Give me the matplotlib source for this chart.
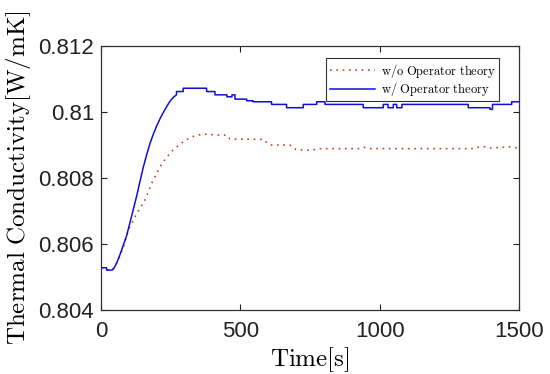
import matplotlib
matplotlib.use('Agg')
import matplotlib.pyplot as plt

plt.rcParams['mathtext.fontset'] = 'cm'
plt.rcParams['font.family'] = ['Liberation Sans', 'DejaVu Sans']

# w/ Operator theory (smooth ramp, then quantised plateaus)
t_with = [0, 20, 20, 40, 45, 52, 60, 70, 80, 92, 104, 116, 128, 140, 152, 164,
          176, 188, 200, 212, 224, 236, 248, 260, 271, 271, 295,
          295, 379, 379, 409, 409, 452, 452, 470, 470, 481, 481, 523, 523, 546,
          546, 612, 612, 666, 666, 726, 726, 774, 774, 804, 804, 941, 941, 1013,
          1013, 1030, 1030, 1049, 1049, 1061, 1061, 1080, 1080, 1318, 1318, 1396,
          1396, 1405, 1405, 1474, 1474, 1500]
k_with = [0.80528, 0.80528, 0.80521, 0.80521, 0.80525, 0.80535, 0.80550, 0.80572,
          0.80596, 0.80625, 0.80665, 0.80705, 0.80745, 0.80790, 0.80833, 0.80871,
          0.80905, 0.80933, 0.80958, 0.80980, 0.80999, 0.81017, 0.81033, 0.81045,
          0.81052, 0.81062, 0.81062, 0.81072,
          0.81072, 0.81062, 0.81062, 0.81052, 0.81052, 0.81046, 0.81046, 0.81052,
          0.81052, 0.81039, 0.81039, 0.81034, 0.81034, 0.81031, 0.81031, 0.81023,
          0.81023, 0.81013, 0.81013, 0.81023, 0.81023, 0.81031, 0.81031, 0.81023,
          0.81023, 0.81013, 0.81013, 0.81023, 0.81023, 0.81013, 0.81013, 0.81023,
          0.81023, 0.81013, 0.81013, 0.81023, 0.81023, 0.81013, 0.81013, 0.81008,
          0.81008, 0.81023, 0.81023, 0.81031, 0.81031]

# w/o Operator theory
t_without = [0, 20, 40, 52, 70, 80, 98, 128, 158, 182, 212, 235, 259, 295, 320,
             343, 380, 415, 451, 463, 582, 594, 606, 678, 700, 750, 785, 930, 945,
             960, 1330, 1350, 1380, 1400, 1440, 1470, 1500]
k_without = [0.80528, 0.80521, 0.80521, 0.80535, 0.80568, 0.80590, 0.80642, 0.80692,
             0.80733, 0.80784, 0.80834, 0.80862, 0.80885, 0.80910, 0.80922, 0.80930,
             0.80933, 0.80930, 0.80930, 0.80918, 0.80917, 0.80908, 0.80900, 0.80900,
             0.80886, 0.80884, 0.80889, 0.80889, 0.80893, 0.80889, 0.80889, 0.80893,
             0.80895, 0.80891, 0.80893, 0.80895, 0.80890]

x_ticks = [0, 500, 1000, 1500]
y_ticks = [0.804, 0.806, 0.808, 0.810, 0.812]
y_tick_labels = ['0.804', '0.806', '0.808', '0.81', '0.812']

fig = plt.figure(figsize=(5.5, 3.74), dpi=100)
ax = fig.add_axes([0.1836, 0.1711, 0.76, 0.7059])

ax.plot(t_without, k_without, color='#c04a1e', lw=1.2, linestyle=(0, (1, 2.8)),
        label=r'$\mathrm{w/o\ Operator\ theory}$')
ax.plot(t_with, k_with, color='#1010d0', lw=1.1,
        label=r'$\mathrm{w/\ Operator\ theory}$')

ax.set_xlim(0, 1500)
ax.set_ylim(0.804, 0.812)
ax.set_xticks(x_ticks)
ax.set_xticklabels([str(x) for x in x_ticks])
ax.set_yticks(y_ticks)
ax.set_yticklabels(y_tick_labels)
ax.tick_params(direction='in', length=4, width=0.8, top=True, right=True,
               labelsize=16, colors='#222222')
ax.tick_params(axis='x', pad=8)
ax.tick_params(axis='y', pad=5)
for s in ax.spines.values():
    s.set_linewidth(0.9)
    s.set_color('#333333')

ax.set_xlabel(r'$\mathrm{Time[s]}$', fontsize=18, labelpad=2)
ax.set_ylabel(r'$\mathrm{Thermal\ Conductivity[W/mK]}$', fontsize=18, labelpad=4)

leg = ax.legend(loc='upper right', bbox_to_anchor=(0.952, 0.953), borderaxespad=0,
                fontsize=9, handlelength=3.6, fancybox=False, framealpha=1,
                edgecolor='#333333', borderpad=0.25, labelspacing=0.05,
                handletextpad=0.5)
leg.get_frame().set_linewidth(0.8)

fig.savefig('out.png', dpi=100)
